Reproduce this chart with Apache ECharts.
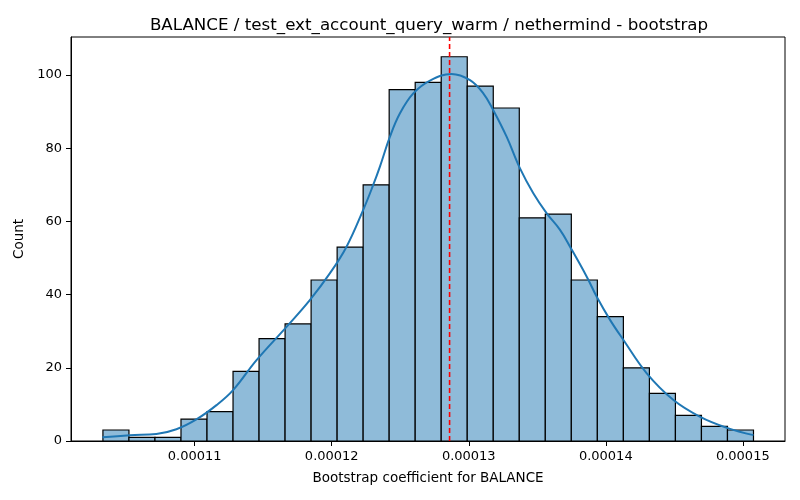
<!DOCTYPE html>
<html>
<head>
<meta charset="utf-8">
<script src="https://cdn.jsdelivr.net/npm/echarts@6/dist/echarts.min.js"></script>
<style>
	html, body { margin: 0; padding: 0; background: #fff; }
	#dataView { width: 800px; height: 500px; }
</style>
</head>
<body>
<div id="dataView"></div>
<script>
// 直方图分箱
var binStart = 0.0001033;
var binWidth = 0.0000018992;
var binCounts = [3, 1, 1, 6, 8, 19, 28, 32, 44, 53, 70, 96, 98, 105, 97, 91, 61, 62, 44, 34, 20, 13, 7, 4, 3];

// KDE 曲线
var kdeX = [0.00010326, 0.00010525, 0.00010720, 0.00010866, 0.00011012, 0.00011159, 0.00011280,
	0.00011451, 0.00011670, 0.00011840, 0.00011986, 0.00012108, 0.00012229, 0.00012302, 0.00012351,
	0.00012424, 0.00012497, 0.00012595, 0.00012717, 0.00012875, 0.00013009, 0.00013106, 0.00013179,
	0.00013277, 0.00013374, 0.00013471, 0.00013569, 0.00013666, 0.00013739, 0.00013861, 0.00013934,
	0.00014031, 0.00014129, 0.00014299, 0.00014494, 0.00014689, 0.00014884, 0.00015078];
var kdeY = [1.0, 1.6, 1.9, 3.2, 5.9, 9.8, 13.9,
	22.1, 31.2, 38.5, 45.8, 53.1, 63.1, 69.9, 74.9,
	83.1, 89.5, 95.0, 98.5, 100.3, 98.6, 95.0, 90.4,
	83.1, 74.5, 67.7, 62.2, 57.7, 53.1, 44.9, 39.4,
	33.1, 27.6, 18.5, 11.2, 6.6, 3.6, 1.6];

var meanValue = 0.0001286;
var xTicks = [0.00011, 0.00012, 0.00013, 0.00014, 0.00015];
var yTicks = [0, 20, 40, 60, 80, 100];

var FONT = 'DejaVu Sans';
var Y_MAX = 110.4;

var histData = binCounts.map(function(c, i) {
	return [binStart + i * binWidth, binStart + (i + 1) * binWidth, c];
});
var kdeData = kdeX.map(function(x, i) { return [x, kdeY[i]]; });

var dataViewcharts = echarts.init(document.getElementById('dataView'));
var dataViewoption = {
	animation: false,
	title: {
		text: 'BALANCE / test_ext_account_query_warm / nethermind - bootstrap',
		left: 424,
		textAlign: 'center',
		top: 12,
		textStyle: { fontFamily: FONT, fontSize: 16.7, fontWeight: 'normal', color: '#000' }
	},
	grid: {
		left: 71, right: 15, top: 37, bottom: 59,
		show: true, borderColor: '#000', borderWidth: 1,
		backgroundColor: 'transparent'
	},
	xAxis: {
		type: 'value',
		min: 0.00010097,
		max: 0.00015308,
		name: 'Bootstrap coefficient for BALANCE',
		nameLocation: 'middle',
		nameGap: 30,
		nameTextStyle: { fontFamily: FONT, fontSize: 13.5, color: '#000' },
		splitLine: { show: false },
		axisLine: { show: true, onZero: false, lineStyle: { color: '#000', width: 1 } },
		axisTick: { show: true, length: 5, lineStyle: { color: '#000' }, customValues: xTicks },
		axisLabel: {
			fontFamily: FONT, fontSize: 13, color: '#000', margin: 9,
			customValues: xTicks,
			formatter: function(v) { return v.toFixed(5); }
		}
	},
	yAxis: {
		type: 'value',
		min: 0,
		max: Y_MAX,
		name: 'Count',
		nameLocation: 'middle',
		nameGap: 43,
		nameTextStyle: { fontFamily: FONT, fontSize: 13.5, color: '#000' },
		splitLine: { show: false },
		axisLine: { show: true, lineStyle: { color: '#000', width: 1 } },
		axisTick: { show: true, length: 5, lineStyle: { color: '#000' }, customValues: yTicks },
		axisLabel: {
			fontFamily: FONT, fontSize: 13, color: '#000', margin: 9,
			customValues: yTicks
		}
	},
	series: [
		{
			name: 'hist',
			type: 'custom',
			renderItem: function(params, api) {
				var p0 = api.coord([api.value(0), api.value(2)]);
				var p1 = api.coord([api.value(1), 0]);
				return {
					type: 'rect',
					shape: { x: p0[0], y: p0[1], width: p1[0] - p0[0], height: p1[1] - p0[1] },
					style: { fill: '#8fbbd9', stroke: '#000', lineWidth: 1.2 }
				};
			},
			encode: { x: [0, 1], y: 2 },
			data: histData,
			z: 2
		},
		{
			name: 'kde',
			type: 'line',
			data: kdeData,
			smooth: 0.4,
			showSymbol: false,
			lineStyle: { color: '#1f77b4', width: 2 },
			z: 3
		},
		{
			name: 'mean',
			type: 'line',
			data: [[meanValue, 0], [meanValue, Y_MAX]],
			showSymbol: false,
			color: '#ff0000',
			lineStyle: { color: '#ff0000', type: [5, 3], width: 1.6 },
			z: 4
		}
	]
};
dataViewcharts.setOption(dataViewoption);
</script>
</body>
</html>
